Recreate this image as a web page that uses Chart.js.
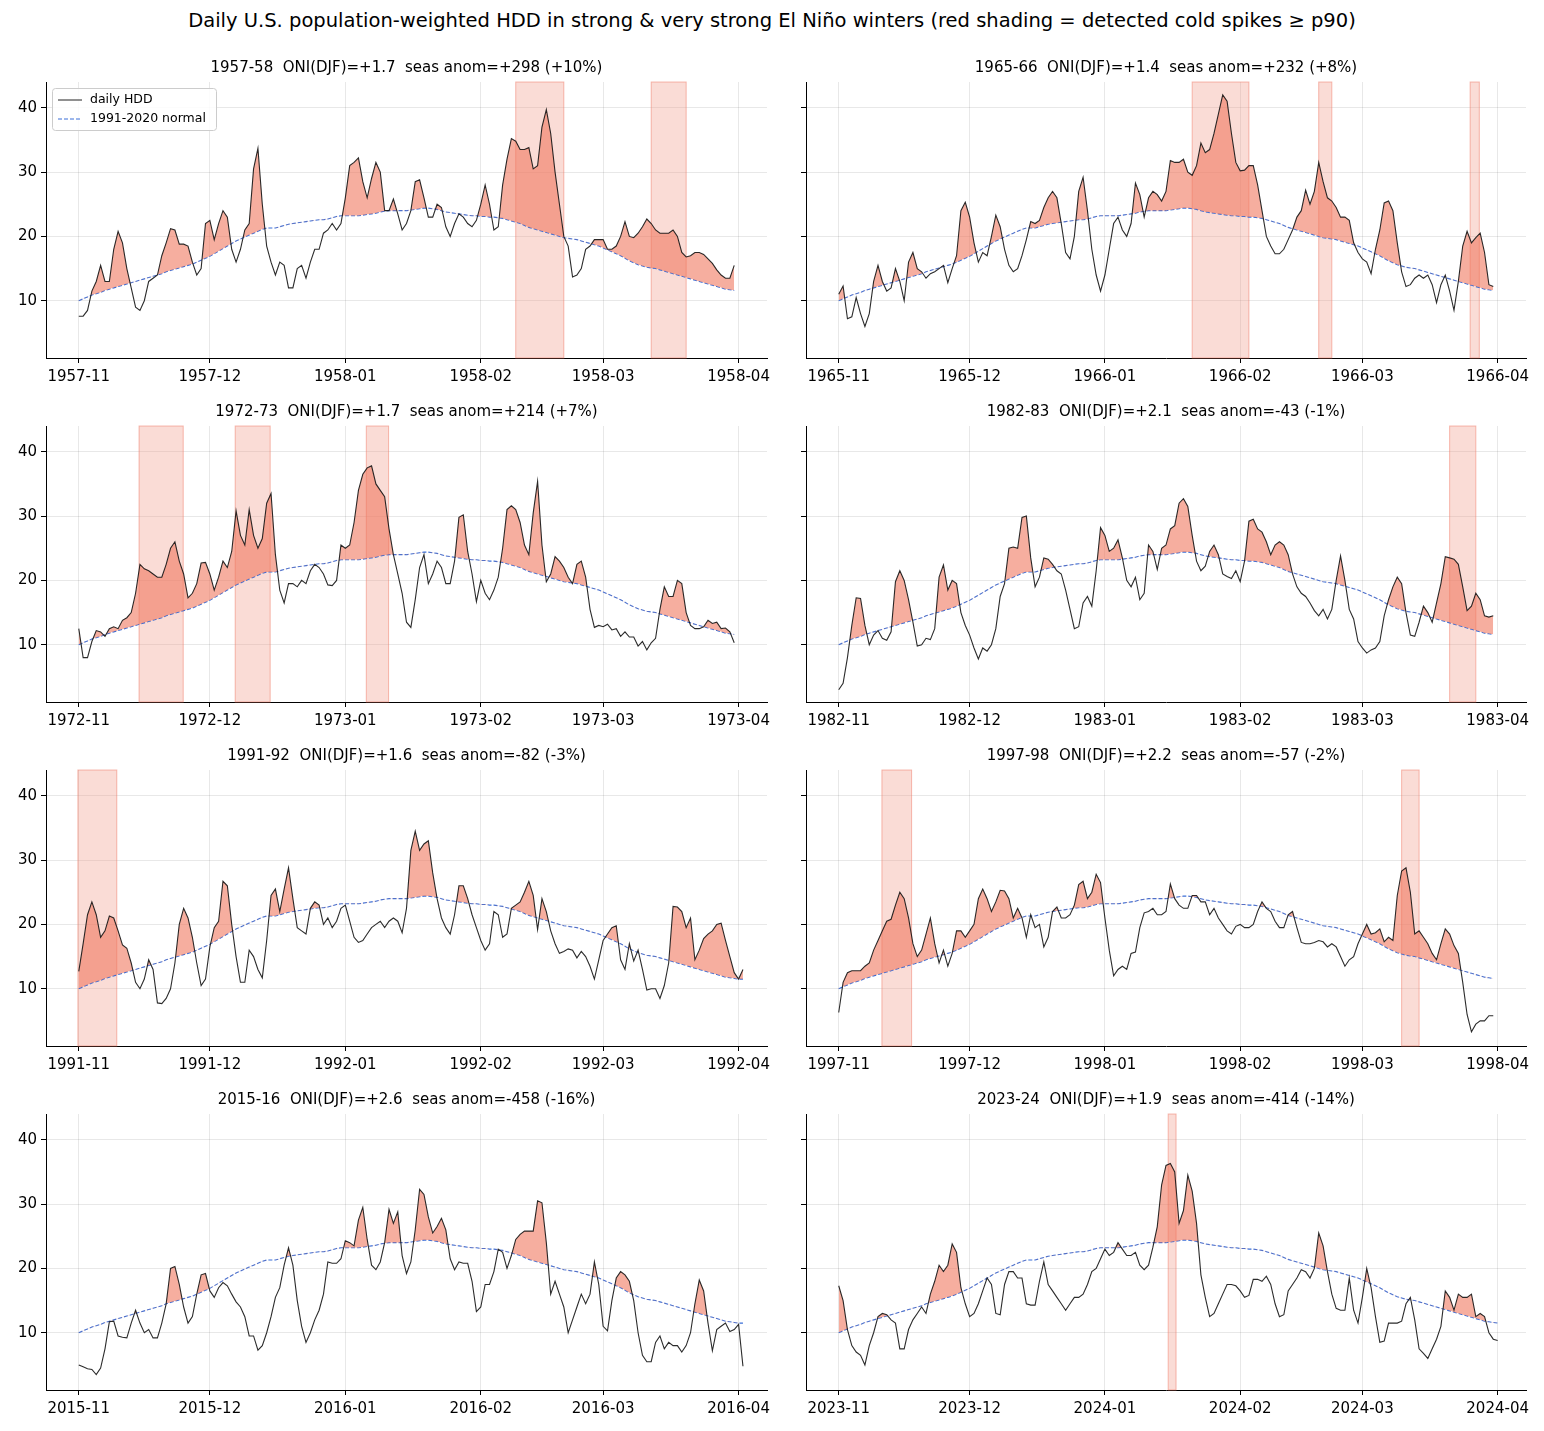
<!DOCTYPE html>
<html><head><meta charset="utf-8">
<script src="https://cdn.jsdelivr.net/npm/chart.js@4"></script>
<style>
body{margin:0;background:#fff;width:1544px;height:1431px;position:relative;overflow:hidden;font-family:"DejaVu Sans",sans-serif}
#sup{position:absolute;top:9px;left:0;width:1544px;text-align:center;font-size:19.5px;color:#000}
.p{position:absolute;width:780px;height:344px}
</style></head><body>
<div id="sup">Daily U.S. population-weighted HDD in strong &amp; very strong El Niño winters (red shading = detected cold spikes ≥ p90)</div>
<script>
const titles=["1957-58  ONI(DJF)=+1.7  seas anom=+298 (+10%)","1965-66  ONI(DJF)=+1.4  seas anom=+232 (+8%)","1972-73  ONI(DJF)=+1.7  seas anom=+214 (+7%)","1982-83  ONI(DJF)=+2.1  seas anom=-43 (-1%)","1991-92  ONI(DJF)=+1.6  seas anom=-82 (-3%)","1997-98  ONI(DJF)=+2.2  seas anom=-57 (-2%)","2015-16  ONI(DJF)=+2.6  seas anom=-458 (-16%)","2023-24  ONI(DJF)=+1.9  seas anom=-414 (-14%)"];
const startYears=[1957,1965,1972,1982,1991,1997,2015,2023];
const monthTickDays=[0,30,61,92,120,151];
const monthTickSuffix=["-11","-12","-01","-02","-03","-04"];
const normal=[10.0,10.3,10.6,10.9,11.1,11.3,11.6,11.8,12.0,12.2,12.4,12.6,12.8,13.0,13.2,13.4,13.6,13.8,14.0,14.2,14.5,14.7,14.9,15.1,15.3,15.5,15.7,16.0,16.3,16.6,16.9,17.3,17.7,18.1,18.5,18.9,19.3,19.6,19.9,20.2,20.5,20.8,21.1,21.3,21.3,21.3,21.5,21.7,21.9,22.0,22.1,22.2,22.3,22.4,22.5,22.6,22.6,22.7,22.9,23.1,23.2,23.2,23.2,23.2,23.2,23.3,23.4,23.5,23.6,23.8,23.9,24.0,24.0,24.0,24.0,24.0,24.1,24.2,24.3,24.4,24.4,24.3,24.2,24.0,23.8,23.7,23.6,23.5,23.4,23.3,23.2,23.2,23.1,23.1,23.0,23.0,22.9,22.8,22.6,22.4,22.2,22.0,21.7,21.4,21.2,21.0,20.8,20.6,20.4,20.2,20.0,19.8,19.7,19.6,19.5,19.3,19.1,18.9,18.7,18.5,18.2,17.9,17.6,17.3,17.0,16.6,16.2,15.9,15.6,15.4,15.2,15.1,15.0,14.8,14.6,14.4,14.2,14.0,13.8,13.6,13.4,13.2,13.0,12.8,12.6,12.4,12.2,12.0,11.8,11.7,11.6,11.5];
const hdd1957=[7.6,7.6,8.5,11.5,13,15.5,13,13,18,20.8,19,15,12,9,8.5,10,13,13.5,14,17,19,21.2,21,18.8,18.8,18.5,16,14,15,22,22.5,19.5,22,24,23,18,16,18,21,22,30.5,33.7,25,18.5,16,14,16,15.5,12,12,15,15.5,13.5,16,18,18,20.5,21,22,21,22,26,31,31.5,32.2,28.5,26,29,31.5,30,24,24,25.8,23.5,21,22,24,28.5,28.8,26,23,23,25,24.5,21.5,20,22,23.5,23,22,21.5,22.5,25,28,25,21,21.5,28,32,35.2,34.8,33.5,33.5,33.8,30.5,31,37,39.7,36,30,25,20,18.5,13.7,14,15,18,18.5,19.5,19.5,19.5,18,18,18.5,20,22.3,20,19.8,20.5,21.5,22.7,22,21,20.5,20.5,20.5,21,20,17.5,16.8,17,17.5,17.5,17.2,16.5,15.8,14.8,14,13.5,13.5,15.5];
const hdd1965=[11,12.3,7.2,7.5,10.5,8,6,8,13,15.5,13,11.5,12,15,13,10,16,17.5,15,14.5,13.5,14.2,14.5,15,15.5,12.8,15,17,24,25.3,23,19,16,17.5,17,20,23.3,21.5,18,15.5,14.5,15,17,19.5,22.3,22,22.5,24.5,26,27,26,22,17.5,16.5,20,27,29.2,24,18,14,11.5,14,18,22,23,21,20,22,28.3,26.5,23,26,27,26.5,25.5,27,31.8,31.5,31.5,32,30,29.5,31,34.5,33,33.5,36,39,42,41,36,31.5,30.2,30.3,31,31,28,24,20,18.5,17.3,17.3,18,19.5,21,23,24,27.2,25,27,31.5,28.5,26,25.5,24.5,23,23,22.5,19,17.5,16.5,16,14.2,18,21,25.2,25.5,24,19,14.5,12.2,12.5,13.5,14,13.5,14,12.5,9.7,12.5,14,11.5,8.5,13,18.5,20.8,19,19.8,20.5,17.5,12.5,12.2];
const hdd1972=[12.5,8,8,10.5,12.2,12,11.3,12.5,12.8,12.5,13.8,14.2,15,18,22.5,21.8,21.5,21,20.5,20.5,22.5,25,26,23,21,17.3,18,19.5,22.7,22.8,21,18.5,20.5,23,22,24.5,30.8,27,25.5,31,27,25,26.5,32,33.5,24,18.5,16.5,19.5,19.5,19,20,19.5,21.5,22.5,22,21,19.3,19.2,20,25.5,25,25.5,29,34,36.5,37.5,37.8,35,34,33,28,24,21,18,13.5,12.7,17,22,24,19.5,21,23,22,19.5,19.5,23,29.8,30.2,24.5,21,16.7,20,18,17,18.5,20.5,25,31,31.6,31,29,25.5,24,30.5,35.4,25.5,19.8,21,23.7,23,22,20.5,19.5,22.5,23,20.5,15.5,12.7,13,12.8,13.2,12.3,12.5,11.3,12,11.2,11.2,9.8,10.5,9.2,10.3,11,15.5,19,17.5,17.5,20,19.5,15,13,12.5,12.5,12.8,13.8,13.3,13.5,12.5,12.6,12,10.3];
const hdd1982=[3,4,8,13,17.3,17.2,13,10,11.5,12.2,11,10.7,12,19.8,21.5,20,17,13.5,9.8,10,11,10.8,12.5,20.5,22.4,18.5,20,19.5,15,13,11.5,9.5,7.8,9.5,9,10,12.5,17.5,19.5,25,25.2,25,29.8,30,23.5,19,20.5,23.5,23.3,22.5,21.5,21,18.5,15.5,12.5,12.8,16.5,17.5,16,21.5,28.2,27,24.5,25,26.3,23.5,20,19,20.5,17,18,25.5,24.5,21.7,25,25.5,28,28.5,32,32.7,31.5,27,23,21.5,22.2,24.5,25.5,24,21,20.6,20.3,21.5,19.8,23,29.2,29.5,28,27.5,26,24,25.5,26,25.5,24,21,19,18,17.5,16.5,15.3,14.5,15.5,14,15.5,20,23.8,20,15.5,14,10.5,9.5,8.7,9.2,9.5,10.5,14.5,17,19,20.5,19.5,15,11.5,11.3,13.5,16,15,13.5,16.5,19.5,23.7,23.5,23.3,22.5,19,15.3,16,18,17,14.5,14.3,14.5];
const hdd1991=[12.7,17,21.5,23.5,21.5,18,19,21.3,21,19,16.8,16.3,14,11,10,11.5,14.5,13,7.8,7.7,8.5,10,14,20,22.5,21,18,14,10.5,11.5,16.5,19.5,20.5,26.7,26,20,15,11,11,16,15,13,11.7,17.5,24.5,25.5,22,25.5,28.8,24,19.5,19,18.5,22.5,23.5,23,20,21,19.5,20.5,22.5,23,20.5,18,17.2,17.5,18.5,19.5,20,20.5,19.5,20.5,21,20.5,18.7,22.5,31.5,34.5,31.5,32.5,33,28,24,21,19.5,18.5,21.5,26,26,24,21.5,19.5,17.5,16,17,22,21.5,18,18.5,22.5,23,23.5,25,26.7,24.5,19.2,24,22,19,17,15.5,15.8,16.2,16,14.8,15.8,15,13.5,11.5,14.5,17.5,18.5,19.5,19.8,14.5,13,17,14.3,16,13,9.8,10,10,8.5,10.5,14,22.8,22.7,22,19.5,21,14.5,16,17.8,18.5,19,20,20.2,17.5,15,12.5,11.5,13];
const hdd1997=[6.3,11,12.5,12.8,12.8,12.8,13.5,14,16,17.5,19,20.5,20.8,23,25,24,21,17,15,16,18.5,21,17,14,16,13.5,15.5,19,19,18,19,20,24,25.5,24,22,23.5,25.3,25.2,24,21,22.5,21,18,21.5,19.5,20,16.5,18,22,22.7,21,21,21.5,23,26.2,26.7,24,25,27.8,26.5,21,16,12,13,13.5,13,15.5,15.7,19.5,21.8,22,22.5,21.5,21.5,22,26.3,24,23,22.5,22.5,24.5,24.5,23.5,23.5,21.5,22.5,21,20,19,18.5,19.7,20,19.5,19.5,20,22,23.5,22.5,22,20.5,19.5,19.5,21.5,22,19.5,17.2,17,17,17.2,17.5,17.3,16.5,17,16.5,15,13.5,14.5,15,17,18.5,20,18.5,18.7,19.3,17.3,18,17.5,24.5,28.3,28.8,25,18.5,19,18,17,15.5,14.5,17,19.3,18.5,16.7,15.5,11,6,3.3,4.5,5,5,5.8,5.8];
const hdd2015=[5,4.7,4.4,4.3,3.5,4.5,7.5,11.7,11.8,9.5,9.3,9.2,11.5,13.5,11.5,10,10.5,9.2,9.2,11.5,14.5,20,20.3,17.5,14,11.5,12.5,16,19,19.2,16.5,15.5,17,17.8,17.3,16,14.8,14,12.5,9.5,9.5,7.3,8,10,12.5,15.5,17,20.5,23.2,20.5,15,11,8.5,10,12,13.5,16,21,20.8,20.8,21.5,24.3,24,23.5,27.5,29.5,24.5,20.5,19.8,21,24,29.2,27,28.8,22,19.2,21,26,32.3,31.5,28,25.5,26.5,27.8,26,21.5,19.8,21,20.8,20.8,18,13.3,14,17.5,17.5,19.5,23,22.5,20,22,24.5,25.3,25.8,25.8,25.8,30.5,30.2,24,16,18,16,14,10,12,14,16,14.5,16,21,17.5,11,10.3,15,18.5,19.5,19,18,15,10,6.5,5.5,5.5,8.5,9.5,7.5,8.5,8,8,7,8,10,14.5,18.2,16.5,11.5,7.2,10.5,11,11.5,10.2,10.5,11.3,4.8];
const hdd2023=[17.3,15,10.5,8,7,6.5,5,8,10,12.5,13,12.8,12,11.5,7.5,7.5,10.5,12,13,14,13,16,18,20.5,19.5,20.5,23.8,22.5,17,14.5,12.5,13,14.5,16.5,18.5,17.5,13,12.8,17.5,19.5,19.5,18.5,18.5,14.5,14.3,14.3,18,21,17.5,16.5,15.5,14.5,13.5,14.5,15.5,15.5,16,17.5,19.5,20,21.5,23,22,22.5,24,23,22,22,22.5,20.5,19.8,20.5,23.3,26.5,33,36,36.3,35,27,29,34.5,32,27,19,15.5,12.5,13,14.5,16,17.5,17.5,17.3,16.5,15.5,15.8,18.3,18.3,18,18.8,17.5,14.5,12.5,12.8,16.5,17.5,18.5,19.8,19.5,18.5,20,25.5,23.5,19.5,16,13.8,13.5,13.5,18.5,13.5,11.5,15.5,20,17,12.5,8.5,8.7,11.5,11.5,11.5,11.8,14.5,15.5,12,7.5,6.8,6,7.5,9,11,16.5,15.5,13.5,16,15.5,15.5,16,12.5,13,12.5,10,9,8.8];
const series=[hdd1957,hdd1965,hdd1972,hdd1982,hdd1991,hdd1997,hdd2015,hdd2023];
const spikes=[[[100,111],[131,139]],[[81,94],[110,113],[144.7,146.8]],[[13.8,23.9],[35.8,43.8],[65.8,70.9]],[[140,146]],[[-0.2,8.7]],[[9.9,16.7],[129,133]],[],[[75.5,77.3]]];

const FONT='"DejaVu Sans", sans-serif';
series.forEach((vals,i)=>{
  const col=i%2,row=Math.floor(i/2);
  const d=document.createElement('div');d.className='p';
  d.style.left=(col?766:0)+'px';d.style.top=(48+row*344)+'px';
  const c=document.createElement('canvas');d.appendChild(c);document.body.appendChild(d);
  const pts=vals.map((v,k)=>({x:k,y:v}));
  const npts=vals.map((v,k)=>({x:k,y:normal[Math.min(k,normal.length-1)]}));
  const sy=startYears[i];
  const overlay={id:'ov'+i,
    beforeDatasetsDraw(ch){const {ctx,chartArea:a,scales:{x}}=ch;ctx.save();
      spikes[i].forEach(([s,e])=>{const x0=x.getPixelForValue(s),x1=x.getPixelForValue(e);
        ctx.fillStyle='rgba(240,150,130,0.33)';ctx.fillRect(x0,a.top,x1-x0,a.bottom-a.top);
        ctx.strokeStyle='rgba(240,120,100,0.5)';ctx.lineWidth=1;ctx.strokeRect(x0,a.top,x1-x0,a.bottom-a.top);});
      ctx.restore();},
    afterDraw(ch){const {ctx,chartArea:a}=ch;ctx.save();
      ctx.fillStyle='#000';ctx.font='15px '+FONT;ctx.textAlign='center';ctx.textBaseline='alphabetic';
      ctx.fillText(titles[i],(a.left+a.right)/2,a.top-10);
      if(i===0){const lx=a.left+6,ly=a.top+6;
        ctx.fillStyle='rgba(255,255,255,0.85)';ctx.strokeStyle='#ccc';ctx.lineWidth=1;
        ctx.beginPath();ctx.roundRect(lx+0.5,ly+0.5,164,42,3);ctx.fill();ctx.stroke();
        ctx.strokeStyle='#222';ctx.beginPath();ctx.moveTo(lx+6,ly+12);ctx.lineTo(lx+30,ly+12);ctx.stroke();
        ctx.strokeStyle='#3a6fd8';ctx.setLineDash([4,2]);ctx.beginPath();ctx.moveTo(lx+6,ly+31);ctx.lineTo(lx+30,ly+31);ctx.stroke();ctx.setLineDash([]);
        ctx.fillStyle='#000';ctx.font='12.5px '+FONT;ctx.textAlign='left';ctx.textBaseline='middle';
        ctx.fillText('daily HDD',lx+38,ly+12);ctx.fillText('1991-2020 normal',lx+38,ly+31);}
      ctx.restore();}};
  new Chart(c,{type:'line',
    data:{datasets:[
      {data:pts,borderColor:'rgba(20,20,20,0.9)',borderWidth:1.1,pointRadius:0,tension:0,
       fill:{target:1,above:'rgba(240,120,95,0.6)',below:'rgba(0,0,0,0)'},order:0},
      {data:npts,borderColor:'#3a6fd8',borderWidth:1.1,borderDash:[4,2],pointRadius:0,tension:0,fill:false,order:1}]},
    options:{responsive:true,maintainAspectRatio:false,animation:false,
      layout:{padding:{top:34,right:col?20:13,bottom:4,left:0}},
      plugins:{legend:{display:false},tooltip:{enabled:false}},
      scales:{
        x:{type:'linear',min:-7.5,max:157.5,
          afterBuildTicks:s=>{s.ticks=monthTickDays.map(v=>({value:v}));},
          afterFit:s=>{s.height=30;},
          ticks:{autoSkip:false,maxRotation:0,color:'#000',font:{family:FONT,size:15},padding:5,
            callback:(v)=>{const k=monthTickDays.indexOf(v);return (k<2?sy:sy+1)+monthTickSuffix[k];}},
          grid:{color:'rgba(0,0,0,0.09)',tickColor:'#000',tickLength:5},border:{color:'#000',width:1}},
        y:{min:1.1,max:44,
          afterBuildTicks:s=>{s.ticks=[10,20,30,40].map(v=>({value:v}));},
          afterFit:s=>{s.width=col?40:46;},
          ticks:{display:true,color:col?'rgba(0,0,0,0)':'#000',font:{family:FONT,size:15},padding:4},
          grid:{color:'rgba(0,0,0,0.09)',tickColor:'#000',tickLength:5},border:{color:'#000',width:1}}}},
    plugins:[overlay]});
});
</script></body></html>
